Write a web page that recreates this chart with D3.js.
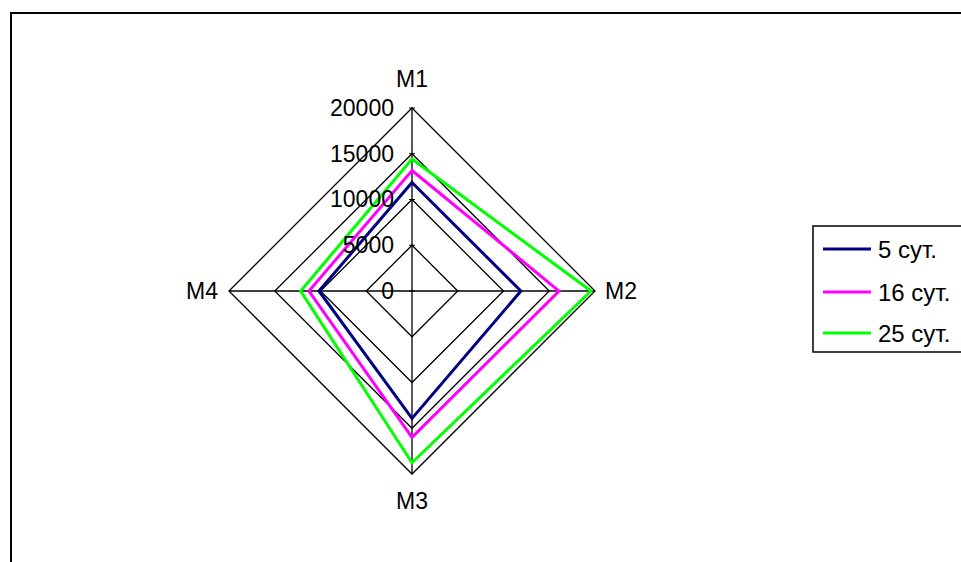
<!DOCTYPE html>
<html>
<head>
<meta charset="utf-8">
<script src="https://cdn.jsdelivr.net/npm/d3@7"></script>
<style>
  body { margin: 0; background: #fff; }
  text { font-family: Arial, "Liberation Sans", sans-serif; fill: #000; }
</style>
</head>
<body>
<svg id="chart" width="961" height="562"></svg>
<script>
// Data
const categories = ["M1", "M2", "M3", "M4"];
const seriesNames = ["5 сут.", "16 сут.", "25 сут."];
const series5 = [11860, 11900, 13920, 10170];
const series16 = [13170, 16070, 16000, 11260];
const series25 = [14420, 19560, 18770, 12170];
const tickValues = [0, 5000, 10000, 15000, 20000];
const colors = ["#000080", "#ff00ff", "#00ff00"];

const svg = d3.select("#chart");
const cx = 412, cy = 291;
const r = d3.scaleLinear().domain([0, 20000]).range([0, 183]);
const angle = d3.scaleLinear().domain([0, categories.length]).range([0, 2 * Math.PI]);

// outer chart border (runs past the right and bottom edges)
svg.append("rect")
    .attr("x", 11).attr("y", 13)
    .attr("width", 1000).attr("height", 600)
    .attr("fill", "none")
    .attr("stroke", "#000")
    .attr("stroke-width", 2);

const g = svg.append("g").attr("transform", `translate(${cx},${cy})`);

// grid rings
const ring = d3.lineRadial()
    .angle((d, i) => angle(i))
    .radius(d => r(d))
    .curve(d3.curveLinearClosed);

g.selectAll(".ring")
    .data(tickValues.slice(1))
    .enter().append("path")
    .attr("class", "ring")
    .attr("d", v => ring(categories.map(() => v)))
    .attr("fill", "none")
    .attr("stroke", "#000")
    .attr("stroke-width", 1.3);

// spokes
g.selectAll(".spoke")
    .data(categories)
    .enter().append("line")
    .attr("class", "spoke")
    .attr("x1", 0).attr("y1", 0)
    .attr("x2", (d, i) => r(20000) * Math.sin(angle(i)))
    .attr("y2", (d, i) => -r(20000) * Math.cos(angle(i)))
    .attr("stroke", "#000")
    .attr("stroke-width", 1.3);

// tick marks on value axis (M1)
g.selectAll(".tick")
    .data(tickValues)
    .enter().append("line")
    .attr("x1", -3).attr("x2", 3)
    .attr("y1", d => -r(d)).attr("y2", d => -r(d))
    .attr("stroke", "#000")
    .attr("stroke-width", 1);

// series
const allSeries = [series5, series16, series25];
const line = d3.lineRadial()
    .angle((d, i) => angle(i))
    .radius(d => r(d))
    .curve(d3.curveLinearClosed);

g.selectAll(".series")
    .data(allSeries)
    .enter().append("path")
    .attr("class", "series")
    .attr("d", d => line(d))
    .attr("fill", "none")
    .attr("stroke", (d, i) => colors[i])
    .attr("stroke-width", 3)
    .attr("stroke-linejoin", "miter");

// value labels
g.selectAll(".vlabel")
    .data(tickValues)
    .enter().append("text")
    .attr("x", -18)
    .attr("y", d => -r(d))
    .attr("dy", "0.34em")
    .attr("text-anchor", "end")
    .style("font-size", "23px")
    .text(d => d);

// category labels
const catPos = [
  { x: 0, y: -r(20000) - 21, anchor: "middle" },
  { x: r(20000) + 10, y: 8, anchor: "start" },
  { x: 0, y: r(20000) + 35, anchor: "middle" },
  { x: -r(20000) - 11, y: 8, anchor: "end" }
];
g.selectAll(".cat")
    .data(categories)
    .enter().append("text")
    .attr("x", (d, i) => catPos[i].x)
    .attr("y", (d, i) => catPos[i].y)
    .attr("text-anchor", (d, i) => catPos[i].anchor)
    .style("font-size", "23px")
    .text(d => d);

// legend
const legend = svg.append("g").attr("transform", "translate(813,226)");
legend.append("rect")
    .attr("width", 200).attr("height", 126)
    .attr("fill", "#fff")
    .attr("stroke", "#000")
    .attr("stroke-width", 1.5);

const legendY = [23, 66, 107];
const items = legend.selectAll(".item")
    .data(seriesNames)
    .enter().append("g")
    .attr("transform", (d, i) => `translate(0,${legendY[i]})`);
items.append("line")
    .attr("x1", 10).attr("x2", 58)
    .attr("stroke", (d, i) => colors[i])
    .attr("stroke-width", 3);
items.append("text")
    .attr("x", 65)
    .attr("dy", "0.36em")
    .style("font-size", "24px")
    .text(d => d);
</script>
</body>
</html>
